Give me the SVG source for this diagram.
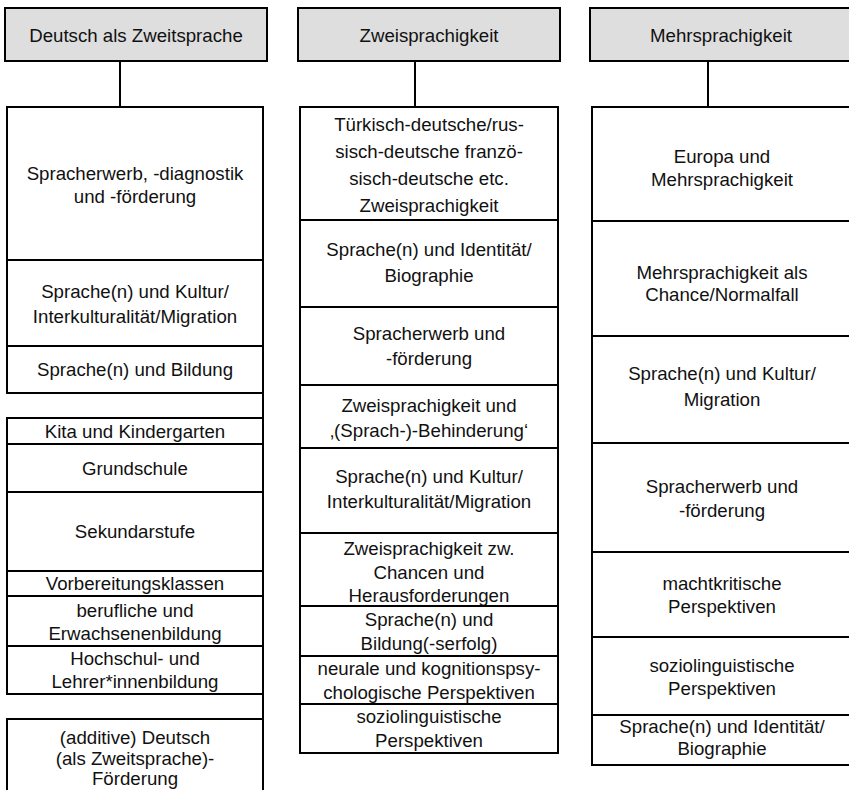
<svg xmlns="http://www.w3.org/2000/svg" width="849" height="790" viewBox="0 0 849 790">
<style>
.h,.b{stroke:#000;stroke-width:2}
.h{fill:#dedede}
.b{fill:#fff}
text{font-family:"Liberation Sans",Arial,sans-serif;font-size:18.67px;fill:#111;text-anchor:middle}
.c{stroke:#000;stroke-width:2;fill:none}
</style>
<rect x="0" y="0" width="849" height="790" fill="#fff"/>
<g id="connectors">
<line class="c" x1="120" y1="61" x2="120" y2="107"/>
<line class="c" x1="415" y1="61" x2="415" y2="107"/>
<line class="c" x1="708" y1="61" x2="708" y2="107"/>
<line class="c" x1="263" y1="393" x2="263" y2="418"/>
<line class="c" x1="263" y1="694" x2="263" y2="719"/>
</g>
<g id="h1"><rect class="h" x="5" y="8" width="262" height="53"/><text x="136" y="42">Deutsch als Zweitsprache</text></g>
<g id="h2"><rect class="h" x="298" y="8" width="262" height="53"/><text x="429" y="42">Zweisprachigkeit</text></g>
<g id="h3"><rect class="h" x="590" y="8" width="262" height="53"/><text x="721" y="42">Mehrsprachigkeit</text></g>

<g id="a1"><rect class="b" x="7" y="107" width="256" height="153"/><text x="135" y="180">Spracherwerb, -diagnostik</text><text x="135" y="202.5">und -förderung</text></g>
<g id="a2"><rect class="b" x="7" y="260" width="256" height="86"/><text x="135" y="297.5">Sprache(n) und Kultur/</text><text x="135" y="322.5">Interkulturalität/Migration</text></g>
<g id="a3"><rect class="b" x="7" y="346" width="256" height="47"/><text x="135" y="376">Sprache(n) und Bildung</text></g>
<g id="a4"><rect class="b" x="7" y="418" width="256" height="26"/><text x="135" y="438">Kita und Kindergarten</text></g>
<g id="a5"><rect class="b" x="7" y="444" width="256" height="48"/><text x="135" y="475">Grundschule</text></g>
<g id="a6"><rect class="b" x="7" y="492" width="256" height="79"/><text x="135" y="538">Sekundarstufe</text></g>
<g id="a7"><rect class="b" x="7" y="571" width="256" height="25"/><text x="135" y="590">Vorbereitungsklassen</text></g>
<g id="a8"><rect class="b" x="7" y="596" width="256" height="50"/><text x="135" y="617">berufliche und</text><text x="135" y="640">Erwachsenenbildung</text></g>
<g id="a9"><rect class="b" x="7" y="646" width="256" height="48"/><text x="135" y="665">Hochschul- und</text><text x="135" y="688">Lehrer*innenbildung</text></g>
<g id="a10"><rect class="b" x="7" y="719" width="256" height="90"/><text x="135" y="744">(additive) Deutsch</text><text x="135" y="765">(als Zweitsprache)-</text><text x="135" y="785">Förderung</text></g>

<g id="b1"><rect class="b" x="300" y="107" width="258" height="113"/><text x="429" y="131">Türkisch-deutsche/rus-</text><text x="429" y="158">sisch-deutsche franzö-</text><text x="429" y="185">sisch-deutsche etc.</text><text x="429" y="212">Zweisprachigkeit</text></g>
<g id="b2"><rect class="b" x="300" y="220" width="258" height="87"/><text x="429" y="256">Sprache(n) und Identität/</text><text x="429" y="282">Biographie</text></g>
<g id="b3"><rect class="b" x="300" y="307" width="258" height="78"/><text x="429" y="340">Spracherwerb und</text><text x="429" y="365">-förderung</text></g>
<g id="b4"><rect class="b" x="300" y="385" width="258" height="63"/><text x="429" y="412">Zweisprachigkeit und</text><text x="429" y="437">‚(Sprach-)-Behinderung‘</text></g>
<g id="b5"><rect class="b" x="300" y="448" width="258" height="85"/><text x="429" y="483">Sprache(n) und Kultur/</text><text x="429" y="508">Interkulturalität/Migration</text></g>
<g id="b6"><rect class="b" x="300" y="533" width="258" height="73"/><text x="429" y="555">Zweisprachigkeit zw.</text><text x="429" y="578.5">Chancen und</text><text x="429" y="602">Herausforderungen</text></g>
<g id="b7"><rect class="b" x="300" y="606" width="258" height="50"/><text x="429" y="626">Sprache(n) und</text><text x="429" y="650">Bildung(-serfolg)</text></g>
<g id="b8"><rect class="b" x="300" y="656" width="258" height="48"/><text x="429" y="675">neurale und kognitionspsy-</text><text x="429" y="699">chologische Perspektiven</text></g>
<g id="b9"><rect class="b" x="300" y="704" width="258" height="49"/><text x="429" y="723">soziolinguistische</text><text x="429" y="747">Perspektiven</text></g>

<g id="c1"><rect class="b" x="592" y="107" width="260" height="114"/><text x="722" y="163">Europa und</text><text x="722" y="186">Mehrsprachigkeit</text></g>
<g id="c2"><rect class="b" x="592" y="221" width="260" height="115"/><text x="722" y="279">Mehrsprachigkeit als</text><text x="722" y="301">Chance/Normalfall</text></g>
<g id="c3"><rect class="b" x="592" y="336" width="260" height="107"/><text x="722" y="380">Sprache(n) und Kultur/</text><text x="722" y="406">Migration</text></g>
<g id="c4"><rect class="b" x="592" y="443" width="260" height="109"/><text x="722" y="493">Spracherwerb und</text><text x="722" y="517">-förderung</text></g>
<g id="c5"><rect class="b" x="592" y="552" width="260" height="85"/><text x="722" y="590">machtkritische</text><text x="722" y="613">Perspektiven</text></g>
<g id="c6"><rect class="b" x="592" y="637" width="260" height="78"/><text x="722" y="672">soziolinguistische</text><text x="722" y="695">Perspektiven</text></g>
<g id="c7"><rect class="b" x="592" y="715" width="260" height="50"/><text x="722" y="733">Sprache(n) und Identität/</text><text x="722" y="755">Biographie</text></g>
</svg>
